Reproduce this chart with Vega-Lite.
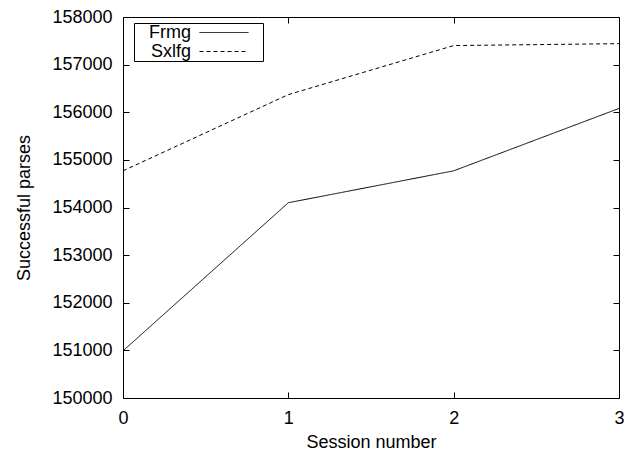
{
  "$schema": "https://vega.github.io/schema/vega-lite/v6.json",
  "autosize": "none",
  "width": 496,
  "height": 381,
  "padding": {"left": 123, "top": 17, "right": 5, "bottom": 52},
  "background": "white",
  "config": {
    "font": "Liberation Sans",
    "view": {"stroke": "black", "strokeWidth": 1},
    "axis": {"labelFont": "Liberation Sans", "titleFont": "Liberation Sans", "labelFontSize": 18, "titleFontSize": 18, "titleFontWeight": "normal", "labelColor": "black", "titleColor": "black", "grid": false}
  },
  "data": {"values": [
    {"session": 0, "parses": 150990, "parser": "Frmg"},
    {"session": 1, "parses": 154100, "parser": "Frmg"},
    {"session": 2, "parses": 154770, "parser": "Frmg"},
    {"session": 3, "parses": 156080, "parser": "Frmg"},
    {"session": 0, "parses": 154770, "parser": "Sxlfg"},
    {"session": 1, "parses": 156370, "parser": "Sxlfg"},
    {"session": 2, "parses": 157400, "parser": "Sxlfg"},
    {"session": 3, "parses": 157440, "parser": "Sxlfg"}
  ]},
  "layer": [
    {
      "mark": {"type": "line", "strokeWidth": 1, "color": "black", "clip": true},
      "encoding": {
        "x": {"field": "session", "type": "quantitative", "scale": {"domain": [0, 3], "nice": false, "zero": false},
              "axis": {"orient": "bottom", "values": [0, 1, 2, 3], "format": "d", "domain": false, "tickSize": 6, "tickColor": "#000000", "offset": -6, "labelPadding": 11, "labelFlush": false, "title": "Session number", "titlePadding": 6}},
        "y": {"field": "parses", "type": "quantitative", "scale": {"domain": [150000, 158000], "nice": false, "zero": false},
              "axis": {"orient": "left", "values": [150000,151000,152000,153000,154000,155000,156000,157000,158000], "format": "d", "domain": false, "tickSize": 6, "tickColor": "#000000", "offset": -6, "labelPadding": 11, "title": "Successful parses", "titlePadding": 18}},
        "strokeDash": {"field": "parser", "type": "nominal",
          "scale": {"domain": ["Frmg", "Sxlfg"], "range": [[1, 0], [4, 3]]},
          "legend": {"title": null, "orient": "none", "legendX": 11, "legendY": 6,
                     "symbolType": "M-2.72,0H2.72M4.05,0", "symbolSize": 324, "symbolStrokeWidth": 1, "symbolStrokeColor": "black",
                     "symbolOffset": 80.5,
                     "labelAlign": "right", "labelOffset": -42.5, "labelFontSize": 18, "labelColor": "black", "labelFont": "Liberation Sans",
                     "rowPadding": 0, "strokeColor": "black", "fillColor": "white", "padding": 0}}
      }
    },
    {
      "mark": {"type": "line", "opacity": 0},
      "encoding": {
        "x": {"field": "session", "type": "quantitative", "scale": {"domain": [0, 3], "nice": false, "zero": false},
              "axis": {"orient": "top", "values": [0, 1, 2, 3], "labels": false, "title": null, "domain": false, "tickSize": 6, "tickColor": "#000000", "offset": -6}},
        "y": {"field": "parses", "type": "quantitative", "scale": {"domain": [150000, 158000], "nice": false, "zero": false},
              "axis": {"orient": "right", "values": [150000,151000,152000,153000,154000,155000,156000,157000,158000], "labels": false, "title": null, "domain": false, "tickSize": 6, "tickColor": "#000000", "offset": -6}}
      }
    }
  ],
  "resolve": {"scale": {"x": "independent", "y": "independent"}, "axis": {"x": "independent", "y": "independent"}}
}
